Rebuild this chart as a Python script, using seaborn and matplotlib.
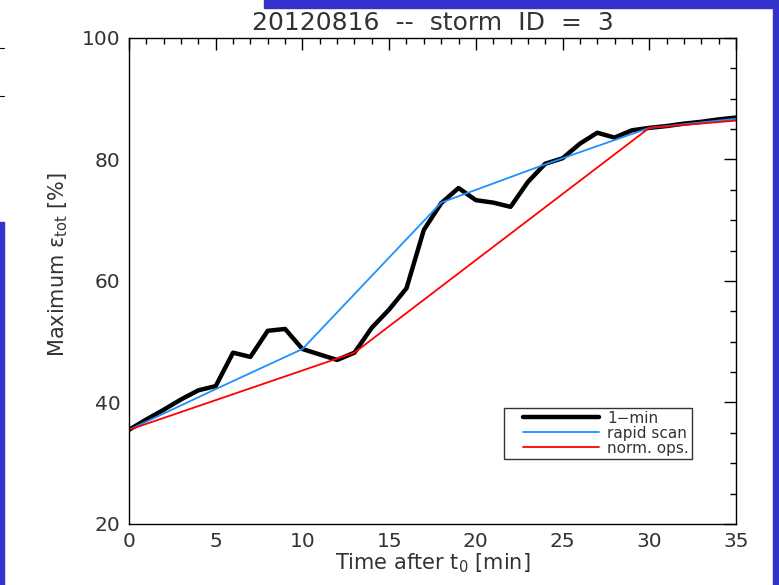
# Storm 3 (2012-08-16): max eps_tot vs time, 1-min vs rapid scan vs normal ops
import matplotlib
matplotlib.use("Agg")
import matplotlib.pyplot as plt
from matplotlib.patches import Rectangle
from matplotlib.lines import Line2D
import seaborn as sns

# -------------------------------------------------------
# DATA
# -------------------------------------------------------
t_1min = list(range(0, 36))
eps_1min = [35.5, 37.2, 38.8, 40.5, 42.0, 42.7, 48.2, 47.5, 51.8, 52.1,
            48.8, 47.9, 47.0, 48.2, 52.3, 55.3, 58.8, 68.4, 72.8, 75.3,
            73.3, 72.9, 72.2, 76.3, 79.3, 80.2, 82.6, 84.4, 83.6, 84.8,
            85.2, 85.5, 85.9, 86.2, 86.6, 86.9]

t_rapid = [0, 5, 10, 18, 24, 30, 35]
eps_rapid = [35.5, 42.2, 48.8, 72.9, 79.2, 85.2, 86.7]

t_norm = [0, 13, 30, 35]
eps_norm = [35.5, 48.2, 85.2, 86.4]

series_labels = ["1\u2212min", "rapid scan", "norm. ops."]
title_text = "20120816  --  storm  ID  =  3"

# -------------------------------------------------------
# STYLE
# -------------------------------------------------------
sns.set_style("white")
plt.rcParams["font.family"] = ["DejaVu Sans"]
plt.rcParams["mathtext.fontset"] = "dejavusans"

TXT = "#333333"
SLIDE_BLUE = "#3333cc"

fig = plt.figure(figsize=(7.79, 5.85), dpi=100)
ax = fig.add_axes([0.1656, 0.1043, 0.7792, 0.8308])

sns.lineplot(x=t_1min, y=eps_1min, ax=ax, color="black", lw=3.2,
             label=series_labels[0])
sns.lineplot(x=t_rapid, y=eps_rapid, ax=ax, color="#1e90ff", lw=1.3,
             label=series_labels[1])
sns.lineplot(x=t_norm, y=eps_norm, ax=ax, color="#ff0000", lw=1.3,
             label=series_labels[2])

ax.set_xlim(0, 35)
ax.set_ylim(20, 100)
ax.set_xticks(range(0, 36, 5))
ax.set_yticks(range(20, 101, 20))
ax.set_xticks(range(0, 36, 1), minor=True)
ax.set_yticks(range(20, 101, 5), minor=True)
ax.tick_params(which="both", direction="in", top=True, right=True,
               colors="black", labelcolor=TXT, width=1.0)
ax.tick_params(which="major", length=8.5, labelsize=14.5, pad=6)
ax.tick_params(which="minor", length=4.5)
for sp in ax.spines.values():
    sp.set_color("black")
    sp.set_linewidth(1.0)

ax.set_title(title_text, fontsize=18, color=TXT, pad=6)
ax.set_xlabel("Time after t$_0$ [min]", fontsize=15, color=TXT, labelpad=0)
ax.set_ylabel("Maximum \u03b5$_{\\rm tot}$ [%]", fontsize=15, color=TXT)
ax.yaxis.set_label_coords(-0.097, 0.533)

leg = ax.legend(loc="lower left", bbox_to_anchor=(0.618, 0.134),
                fontsize=11, frameon=True, fancybox=False,
                handlelength=6.0, handletextpad=0.55, labelspacing=0.0,
                borderpad=0.2, borderaxespad=0)
leg.get_frame().set_edgecolor("black")
leg.get_frame().set_linewidth(1.0)
for txt in leg.get_texts():
    txt.set_color(TXT)
# the legend lines start a bit in from the box edge
for ln in leg.get_lines():
    xd = list(ln.get_xdata())
    yd = list(ln.get_ydata())
    x0 = xd[0] + (xd[-1] - xd[0]) * 0.17
    ln.set_data([x0, xd[-1]], [yd[0], yd[0]])

# -------------------------------------------------------
# SLIDE BACKGROUND EDGES
# -------------------------------------------------------
W, H = 779.0, 585.0
fig.patches.append(Rectangle((264 / W, 1 - 8 / H), 1, 8 / H,
                             transform=fig.transFigure, color=SLIDE_BLUE, zorder=0))
fig.patches.append(Rectangle((773 / W, 0), 6 / W, 1,
                             transform=fig.transFigure, color=SLIDE_BLUE, zorder=0))
fig.patches.append(Rectangle((0, 0), 4 / W, 1 - 222 / H,
                             transform=fig.transFigure, color=SLIDE_BLUE, zorder=0))
for yy in (48, 96):
    fig.lines.append(Line2D([0, 4 / W], [1 - yy / H, 1 - yy / H],
                            transform=fig.transFigure, color="black", lw=0.8))

fig.savefig("out.png", dpi=100)
